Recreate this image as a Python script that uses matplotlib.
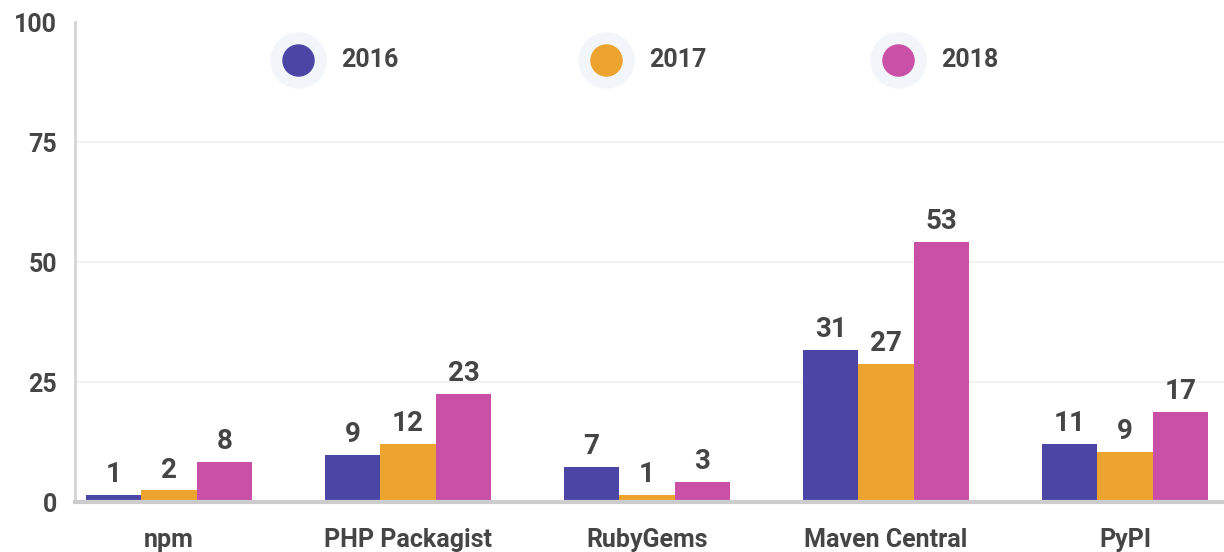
import numpy as np
import matplotlib.pyplot as plt

# data
categories = ["npm", "PHP Packagist", "RubyGems", "Maven Central", "PyPI"]
years = ["2016", "2017", "2018"]
v2016 = [1.4, 9.8, 7.3, 31.6, 12.0]
v2017 = [2.4, 12.0, 1.5, 28.7, 10.5]
v2018 = [8.3, 22.5, 4.2, 54.2, 18.7]
lab2016 = ["1", "9", "7", "31", "11"]
lab2017 = ["2", "12", "1", "27", "9"]
lab2018 = ["8", "23", "3", "53", "17"]
colors = ["#4b45a6", "#eda42e", "#c94fa7"]

plt.rcParams["font.family"] = ["Roboto", "DejaVu Sans"]
plt.rcParams["font.weight"] = "bold"
txt = "#454545"

fig = plt.figure(figsize=(12.24, 5.52), dpi=100)
ax = fig.add_axes([75 / 1224, 50 / 552, 1149 / 1224, 480 / 552])

x = np.arange(len(categories))
w = 0.232
series = [v2016, v2017, v2018]
labels = [lab2016, lab2017, lab2018]
for i, (vals, labs) in enumerate(zip(series, labels)):
    bars = ax.bar(x + (i - 1) * w, vals, w, color=colors[i], zorder=3)
    for b, lab in zip(bars, labs):
        ax.annotate(lab, (b.get_x() + b.get_width() / 2, b.get_height()),
                    xytext=(0, 5), textcoords="offset points",
                    ha="center", va="bottom", fontsize=20,
                    fontweight="bold", color=txt)

ax.set_xlim(-0.393, 4.414)
ax.set_ylim(0, 100)
ax.set_yticks([0, 25, 50, 75, 100])
ax.set_xticks(x)
ax.set_xticklabels(categories)
ax.tick_params(axis="y", length=0, pad=13, labelsize=18, labelcolor=txt)
ax.tick_params(axis="x", length=0, pad=19, labelsize=18, labelcolor=txt)
for t in ax.get_xticklabels() + ax.get_yticklabels():
    t.set_fontweight("bold")

# faint gridlines at 25/50/75 only
for g in [25, 50, 75]:
    ax.axhline(g, color="#f3f3f3", linewidth=1.5, zorder=0)
ax.spines["top"].set_visible(False)
ax.spines["right"].set_visible(False)
ax.spines["left"].set_color("#d4d4d4")
ax.spines["left"].set_linewidth(2)
ax.spines["bottom"].set_color("#cccccc")
ax.spines["bottom"].set_linewidth(3)
ax.spines["bottom"].set_zorder(4)

# legend: dots with a pale halo
leg_x = [0.194, 0.462, 0.716]
for lx, yr, c in zip(leg_x, years, colors):
    ax.scatter([lx], [0.921], s=1570, color="#f2f6fa", transform=ax.transAxes,
               zorder=5, clip_on=False)
    ax.scatter([lx], [0.921], s=500, color=c, transform=ax.transAxes,
               zorder=6, clip_on=False)
    ax.text(lx + 0.038, 0.921, yr, transform=ax.transAxes, ha="left",
            va="center", fontsize=18, fontweight="bold", color=txt)

fig.savefig("out.png", dpi=100)
